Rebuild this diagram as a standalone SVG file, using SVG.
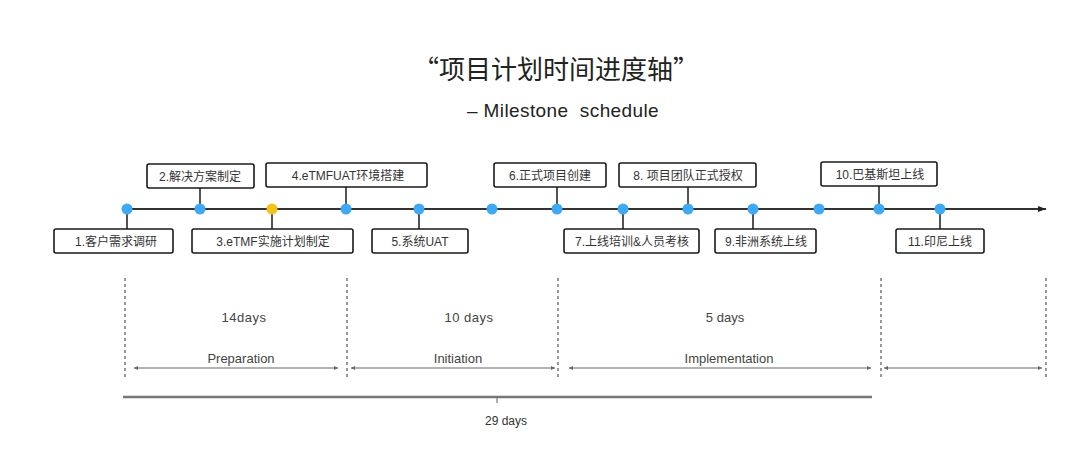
<svg xmlns="http://www.w3.org/2000/svg" width="1080" height="449" viewBox="0 0 1080 449">
<defs>
<style>
.box{fill:#fff;stroke:#1a1a1a;stroke-width:1.6}
.bt{font-family:"Liberation Sans","Noto Sans CJK SC",sans-serif;font-size:12px;fill:#333;text-anchor:middle}
.dot{fill:#3DA9F7}
.con{stroke:#1a1a1a;stroke-width:1.5}
.dash{stroke:#555;stroke-width:1.2;stroke-dasharray:3,3}
.span{stroke:#666;stroke-width:1;fill:none;marker-start:url(#sa);marker-end:url(#sa)}
.lt{font-family:"Liberation Sans","Noto Sans CJK SC",sans-serif;font-size:13px;fill:#444;text-anchor:middle}
</style>
<marker id="sa" viewBox="0 0 6 6" refX="6" refY="3" markerWidth="4" markerHeight="4" orient="auto-start-reverse" markerUnits="userSpaceOnUse">
<path d="M0,0L6,3L0,6z" fill="#666"/>
</marker>
<marker id="ma" viewBox="0 0 8 6" refX="8" refY="3" markerWidth="8" markerHeight="6" orient="auto" markerUnits="userSpaceOnUse">
<path d="M0,0L8,3L0,6z" fill="#222"/>
</marker>
</defs>
<rect width="1080" height="449" fill="#fff"/>
<g id="title">
<text x="556" y="79" font-family="'Noto Sans CJK SC',sans-serif" font-size="26" fill="#222" text-anchor="middle">“项目计划时间进度轴”</text>
<text x="563" y="117" font-family="'Liberation Sans','Noto Sans CJK SC',sans-serif" font-size="19" letter-spacing="0.4" fill="#222" text-anchor="middle" xml:space="preserve">– Milestone  schedule</text>
</g>
<g id="connectors">
<line x1="126" y1="209" x2="1046" y2="209" stroke="#333" stroke-width="2" marker-end="url(#ma)"/>
<line class="con" x1="127" y1="209" x2="127" y2="229"/>
<line class="con" x1="200" y1="188" x2="200" y2="209"/>
<line class="con" x1="272" y1="209" x2="272" y2="229"/>
<line class="con" x1="346" y1="187" x2="346" y2="209"/>
<line class="con" x1="419" y1="209" x2="419" y2="229"/>
<line class="con" x1="557" y1="187" x2="557" y2="209"/>
<line class="con" x1="623" y1="209" x2="623" y2="229"/>
<line class="con" x1="688" y1="187" x2="688" y2="209"/>
<line class="con" x1="753" y1="209" x2="753" y2="229"/>
<line class="con" x1="879" y1="186" x2="879" y2="209"/>
<line class="con" x1="940" y1="209" x2="940" y2="229"/>
</g>
<g id="dots">
<circle class="dot" cx="127" cy="209" r="5.5"/>
<circle class="dot" cx="200" cy="209" r="5.5"/>
<circle cx="272" cy="209" r="5.5" fill="#F3C21B"/>
<circle class="dot" cx="346" cy="209" r="5.5"/>
<circle class="dot" cx="419" cy="209" r="5.5"/>
<circle class="dot" cx="492" cy="209" r="5.5"/>
<circle class="dot" cx="557" cy="209" r="5.5"/>
<circle class="dot" cx="623" cy="209" r="5.5"/>
<circle class="dot" cx="688" cy="209" r="5.5"/>
<circle class="dot" cx="753" cy="209" r="5.5"/>
<circle class="dot" cx="819" cy="209" r="5.5"/>
<circle class="dot" cx="879" cy="209" r="5.5"/>
<circle class="dot" cx="940" cy="209" r="5.5"/>
</g>
<g id="n1"><rect class="box" x="54" y="229" width="119" height="24" rx="2"/><text class="bt" x="116" y="245.5">1.客户需求调研</text></g>
<g id="n2"><rect class="box" x="147" y="164" width="107" height="24" rx="2"/><text class="bt" x="200" y="180.5">2.解决方案制定</text></g>
<g id="n3"><rect class="box" x="192" y="229" width="161" height="24" rx="2"/><text class="bt" x="273" y="245.5">3.eTMF实施计划制定</text></g>
<g id="n4"><rect class="box" x="266" y="163" width="161" height="24" rx="2"/><text class="bt" x="348" y="179.5">4.eTMFUAT环境搭建</text></g>
<g id="n5"><rect class="box" x="372" y="229" width="96" height="24" rx="2"/><text class="bt" x="420" y="245.5">5.系统UAT</text></g>
<g id="n6"><rect class="box" x="494" y="163" width="112" height="24" rx="2"/><text class="bt" x="550" y="179.5">6.正式项目创建</text></g>
<g id="n7"><rect class="box" x="564" y="229" width="135" height="24" rx="2"/><text class="bt" x="632" y="245.5">7.上线培训&amp;人员考核</text></g>
<g id="n8"><rect class="box" x="619" y="163" width="137" height="24" rx="2"/><text class="bt" x="688" y="179.5">8. 项目团队正式授权</text></g>
<g id="n9"><rect class="box" x="715" y="229" width="101" height="24" rx="2"/><text class="bt" x="766" y="245.5">9.非洲系统上线</text></g>
<g id="n10"><rect class="box" x="821" y="162" width="116" height="24" rx="2"/><text class="bt" x="880" y="178.5">10.巴基斯坦上线</text></g>
<g id="n11"><rect class="box" x="896" y="229" width="88" height="24" rx="2"/><text class="bt" x="940" y="245.5">11.印尼上线</text></g>
<g id="phases">
<line class="dash" x1="125" y1="278" x2="125" y2="378"/>
<line class="dash" x1="347" y1="278" x2="347" y2="378"/>
<line class="dash" x1="558" y1="278" x2="558" y2="378"/>
<line class="dash" x1="881" y1="278" x2="881" y2="378"/>
<line class="dash" x1="1046" y1="278" x2="1046" y2="378"/>
<line class="span" x1="134" y1="368" x2="338" y2="368"/>
<line class="span" x1="351" y1="368" x2="555" y2="368"/>
<line class="span" x1="569" y1="368" x2="871" y2="368"/>
<line class="span" x1="884" y1="368" x2="1042" y2="368"/>
<text class="lt" x="244" y="322" letter-spacing="0.5">14days</text>
<text class="lt" x="469" y="322" letter-spacing="0.5">10 days</text>
<text class="lt" x="725" y="322">5 days</text>
<text class="lt" x="241" y="363">Preparation</text>
<text class="lt" x="458" y="363">Initiation</text>
<text class="lt" x="729" y="363">Implementation</text>
<line x1="123" y1="397" x2="872" y2="397" stroke="#777" stroke-width="2.5"/>
<line x1="497" y1="397" x2="497" y2="403" stroke="#777" stroke-width="1.2"/>
<text x="506" y="425" font-family="'Liberation Sans',sans-serif" font-size="12" fill="#333" text-anchor="middle">29 days</text>
</g>
</svg>
